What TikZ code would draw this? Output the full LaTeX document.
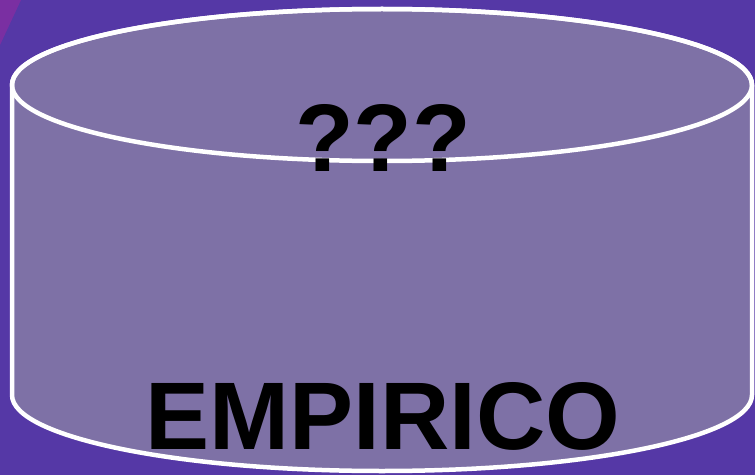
\documentclass[tikz,border=0pt]{standalone}
\usepackage{fontspec}
\setmainfont{Liberation Sans}
\usepackage{xcolor}
\definecolor{backdrop}{HTML}{5538A6}
\definecolor{corner}{HTML}{7A2FA2}
\definecolor{drum}{HTML}{7E71A6}

\begin{document}
\begin{tikzpicture}[
  x=1pt,y=1pt,
  drumbody/.style={fill=drum,draw=white,line width=4.5pt,line join=round},
  rim/.style={draw=white,line width=4.5pt},
  caption/.style={anchor=base,font=\bfseries\fontsize{96}{100}\selectfont,text=black,inner sep=0pt}
]
\useasboundingbox (0,0) rectangle (755,475);
\fill[backdrop] (0,0) rectangle (755,475);
\fill[corner] (0,475) -- (21,475) -- (0,430) -- cycle;
% the drum
\filldraw[drumbody] (12,390) -- (12,80)
  arc[start angle=180,end angle=360,x radius=370,y radius=76]
  -- (752,390)
  arc[start angle=0,end angle=180,x radius=370,y radius=76] -- cycle;
\draw[rim] (382,390) ellipse[x radius=370,y radius=76];
% texts
\node[caption] (marks) at (383,304) {???};
\node[caption] (name) at (383,26) {EMPIRICO};
\end{tikzpicture}
\end{document}
